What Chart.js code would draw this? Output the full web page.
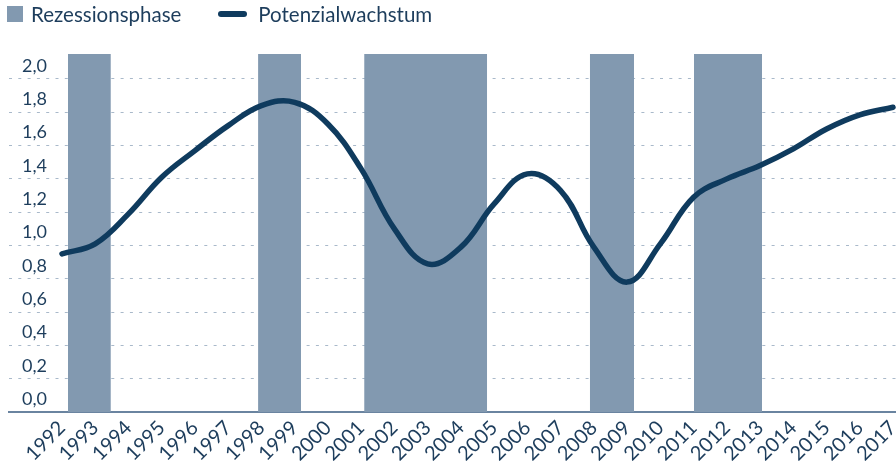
<!DOCTYPE html>
<html lang="de">
<head>
<meta charset="utf-8">
<title>Potenzialwachstum</title>
<script src="https://cdn.jsdelivr.net/npm/chart.js@4.4.1/dist/chart.umd.min.js"></script>
<style>
    html, body { margin: 0; padding: 0; background: #fff; }
    #wrap { position: relative; width: 896px; height: 461px; overflow: hidden; }
    #legend {
        position: absolute; left: 7px; top: 2px;
        display: flex; align-items: center;
        font-family: Lato, "Noto Sans", sans-serif; font-size: 20.5px; color: #1d3d5c;
    }
    .item { display: flex; align-items: center; margin-right: 37px; }
    .box { width: 16px; height: 16px; margin-right: 8px; }
    .stroke { width: 29px; height: 6px; border-radius: 3px; margin-right: 11px; }
</style>
</head>
<body>
<div id="wrap">
    <canvas id="chart" width="896" height="461"></canvas>
    <div id="legend"></div>
</div>
<script>
// Jahre (Achsenbeschriftung)
const years = [1992, 1993, 1994, 1995, 1996, 1997, 1998, 1999, 2000, 2001, 2002, 2003, 2004,
    2005, 2006, 2007, 2008, 2009, 2010, 2011, 2012, 2013, 2014, 2015, 2016, 2017];

// Potenzialwachstum in %
const potenzialwachstum = [0.95, 1.01, 1.19, 1.41, 1.57, 1.72, 1.84, 1.86, 1.73, 1.46, 1.10, 0.89, 0.99,
    1.25, 1.43, 1.33, 0.99, 0.78, 1.01, 1.29, 1.40, 1.48, 1.58, 1.70, 1.785, 1.83];

// Rezessionsphasen (Beginn / Ende auf der Zeitachse)
const rezessionVon = [1992.18, 1997.90, 2001.09, 2007.88, 2011.01];
const rezessionBis = [1993.47, 1999.19, 2004.79, 2009.21, 2013.06];

// Werte der y-Achse
const yTicks = [0, 0.2, 0.4, 0.6, 0.8, 1.0, 1.2, 1.4, 1.6, 1.8, 2.0];
const yMax = 2.15;

const textColor = '#1d3d5c';
const barColor = '#8299b0';
const lineColor = '#0f3b5e';
const font = 'Lato, "Noto Sans", sans-serif';

const datasets = [{
    label: 'Potenzialwachstum',
    data: years.map((y, i) => ({ x: y, y: potenzialwachstum[i] })),
    borderColor: lineColor,
    borderWidth: 5.5,
    borderCapStyle: 'round',
    borderJoinStyle: 'round',
    pointRadius: 0,
    tension: 0.4,
    fill: false,
    order: 0
}];

rezessionVon.forEach((von, i) => {
    datasets.push({
        label: 'Rezessionsphase',
        data: [{ x: von, y: yMax }, { x: rezessionBis[i], y: yMax }],
        backgroundColor: barColor,
        borderColor: 'transparent',
        borderWidth: 0,
        pointRadius: 0,
        tension: 0,
        fill: 'origin',
        order: 1
    });
});

const chart = new Chart(document.getElementById('chart'), {
    type: 'line',
    data: { datasets },
    options: {
        responsive: false,
        animation: false,
        devicePixelRatio: 1,
        layout: { padding: { top: 54, left: 9, right: 0, bottom: 0 } },
        plugins: { legend: { display: false }, tooltip: { enabled: false } },
        scales: {
            x: {
                type: 'linear',
                min: 1990.406,
                max: 2017.09,
                grid: { display: false, drawTicks: false },
                border: { display: true, color: '#6a84a0', width: 2 },
                afterBuildTicks: axis => { axis.ticks = years.map(v => ({ value: v })); },
                afterFit: axis => { axis.paddingLeft = 0; axis.paddingRight = 0; axis.height = 49; },
                ticks: {
                    autoSkip: false,
                    minRotation: 45,
                    maxRotation: 45,
                    padding: 4,
                    color: textColor,
                    font: { family: font, size: 20 },
                    callback: v => String(v)
                }
            },
            y: {
                min: 0,
                max: yMax,
                grid: { color: '#a9b9ca', lineWidth: 1, drawTicks: false },
                border: { display: false, dash: [3, 6.3] },
                afterBuildTicks: axis => { axis.ticks = yTicks.map(v => ({ value: v })); },
                afterFit: axis => { axis.paddingTop = 0; axis.paddingBottom = 0; axis.width = 0; },
                ticks: {
                    mirror: true,
                    padding: 13,
                    labelOffset: -13,
                    color: textColor,
                    font: { family: font, size: 18 },
                    callback: v => v.toFixed(1).replace('.', ',')
                }
            }
        }
    }
});

// Legende als HTML aus den Datensätzen
const legend = document.getElementById('legend');
[['Rezessionsphase', 'box', barColor], ['Potenzialwachstum', 'stroke', lineColor]].forEach(([text, cls, col]) => {
    const item = document.createElement('div');
    item.className = 'item';
    const mark = document.createElement('span');
    mark.className = cls;
    mark.style.background = col;
    item.appendChild(mark);
    item.appendChild(document.createTextNode(text));
    legend.appendChild(item);
});
</script>
</body>
</html>
